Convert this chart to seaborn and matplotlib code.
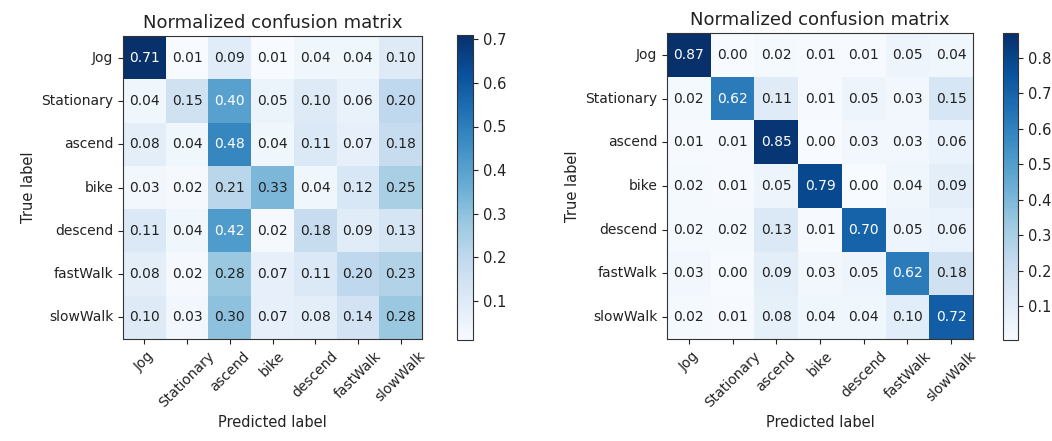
import numpy as np
import pandas as pd
import matplotlib
matplotlib.use("Agg")
import matplotlib.pyplot as plt
import seaborn as sns

labels = ["Jog", "Stationary", "ascend", "bike", "descend", "fastWalk", "slowWalk"]

cm_left = [
    [0.71, 0.01, 0.09, 0.01, 0.04, 0.04, 0.10],
    [0.04, 0.15, 0.40, 0.05, 0.10, 0.06, 0.20],
    [0.08, 0.04, 0.48, 0.04, 0.11, 0.07, 0.18],
    [0.03, 0.02, 0.21, 0.33, 0.04, 0.12, 0.25],
    [0.11, 0.04, 0.42, 0.02, 0.18, 0.09, 0.13],
    [0.08, 0.02, 0.28, 0.07, 0.11, 0.20, 0.23],
    [0.10, 0.03, 0.30, 0.07, 0.08, 0.14, 0.28],
]
cm_right = [
    [0.87, 0.00, 0.02, 0.01, 0.01, 0.05, 0.04],
    [0.02, 0.62, 0.11, 0.01, 0.05, 0.03, 0.15],
    [0.01, 0.01, 0.85, 0.00, 0.03, 0.03, 0.06],
    [0.02, 0.01, 0.05, 0.79, 0.00, 0.04, 0.09],
    [0.02, 0.02, 0.13, 0.01, 0.70, 0.05, 0.06],
    [0.03, 0.00, 0.09, 0.03, 0.05, 0.62, 0.18],
    [0.02, 0.01, 0.08, 0.04, 0.04, 0.10, 0.72],
]
cbar_ticks_left = [0.1, 0.2, 0.3, 0.4, 0.5, 0.6, 0.7]
cbar_ticks_right = [0.1, 0.2, 0.3, 0.4, 0.5, 0.6, 0.7, 0.8]

W, H = 1052, 441
fig = plt.figure(figsize=(W / 100, H / 100), dpi=100)


def box(x0, y0, x1, y1):
    return [x0 / W, 1 - y1 / H, (x1 - x0) / W, (y1 - y0) / H]


def draw(cm, ticks, ax_box, cb_box, vmin):
    ax = fig.add_axes(box(*ax_box))
    cax = fig.add_axes(box(*cb_box))
    df = pd.DataFrame(cm, index=labels, columns=labels)
    arr = np.array(cm)
    sns.heatmap(df, ax=ax, cbar_ax=cax, cmap="Blues", annot=True, fmt=".2f",
                annot_kws={"fontsize": 10}, square=False,
                vmin=vmin, vmax=arr.max())
    thresh = arr.max() / 2.0
    for t in ax.texts:
        v = float(t.get_text())
        t.set_color("white" if v > thresh else "#222222")
    for s in ax.spines.values():
        s.set_visible(True)
        s.set_linewidth(0.8)
        s.set_color("#333333")
    ax.tick_params(axis="both", which="both", length=3.5, width=0.8,
                   left=True, bottom=True, labelsize=10, colors="#222222")
    ax.set_xticklabels(labels, rotation=45, ha="center", rotation_mode="default")
    ax.set_yticklabels(labels, rotation=0)
    ax.set_title("Normalized confusion matrix", fontsize=13, color="#222222")
    ax.set_xlabel("Predicted label", fontsize=10.5, color="#222222")
    ax.set_ylabel("True label", fontsize=10.5, color="#222222")
    cb = ax.collections[0].colorbar
    cb.set_ticks(ticks)
    cb.set_ticklabels([f"{t:.1f}" for t in ticks])
    cb.outline.set_visible(True)
    cb.outline.set_linewidth(0.8)
    cb.outline.set_edgecolor("#333333")
    cax.tick_params(labelsize=10.5, length=3.5, width=0.8, colors="#222222")
    return ax


draw(cm_left, cbar_ticks_left, (123, 36, 422, 339), (457, 35, 473, 340), 0.01)
draw(cm_right, cbar_ticks_right, (667, 33, 973, 339), (1003, 33, 1018, 340), 0.005)

fig.savefig("out.png", dpi=100, facecolor="white")
